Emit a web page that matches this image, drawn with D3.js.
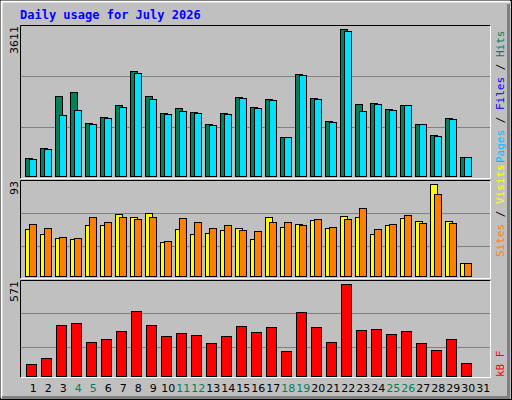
<!DOCTYPE html><html><head><meta charset="utf-8">
<script src="https://cdn.jsdelivr.net/npm/d3@7"></script>
<style>body{margin:0}svg{display:block}</style></head><body>
<script>
const days = d3.range(1,32);
const weekend = [4,5,11,12,18,19,25,26];
const hits  = [442,688,1965,2063,1302,1449,1744,2579,1965,1547,1670,1572,1277,1547,1940,1695,1891,958,2505,1916,1351,3611,1768,1793,1646,1744,1277,1007,1425,467];
const files = [418,663,1498,1621,1277,1425,1695,2530,1891,1523,1597,1547,1253,1523,1916,1670,1867,958,2481,1891,1326,3561,1597,1768,1621,1744,1277,982,1400,467];
const visits = [48,43,39,38,52,52,63,60,64,34,48,43,44,47,49,38,60,50,53,57,49,61,60,43,52,59,56,93,56,13];
const sites  = [53,49,40,39,60,55,60,58,60,36,59,55,49,52,47,46,55,55,52,58,50,58,69,48,53,62,54,83,54,13];
const kbytes = [71,108,315,327,208,227,277,402,315,246,265,252,202,246,308,271,302,152,396,302,208,571,283,290,258,277,202,158,227,77];
const maxHits=3611, maxVisits=93, maxKB=571;

const svg=d3.select("body").append("svg").attr("width",512).attr("height",400);
svg.append("rect").attr("width",512).attr("height",400).attr("fill","#c0c0c0");
svg.append("rect").attr("x",0.5).attr("y",0.5).attr("width",511).attr("height",399).attr("fill","none").attr("stroke","#000");
svg.append("path").attr("d","M1.5,398V1.5H510").attr("fill","none").attr("stroke","#fff").attr("stroke-width",2);
svg.append("path").attr("d","M2,397.5H508.5V4").attr("fill","none").attr("stroke","#808080").attr("stroke-width",3);
svg.append("text").attr("x",20).attr("y",19).text("Daily usage for July 2026")
 .attr("font-family","DejaVu Sans Mono").attr("font-weight","bold").attr("font-size",12).attr("fill","#0000ff");

const x=d3.scaleLinear().domain([1,31]).range([25.3,475.3]);
function panel(y0,y1){
 svg.append("rect").attr("x",20.5).attr("y",y0+0.5).attr("width",470).attr("height",y1-y0).attr("fill","#c0c0c0");
 svg.append("path").attr("d",`M20.5,${y1+0.5}V${y0+0.5}H490.5`).attr("stroke","#000").attr("fill","none");
 svg.append("path").attr("d",`M20.5,${y1+0.5}H490.5V${y0+0.5}`).attr("stroke","#fff").attr("fill","none");
}
function grid(y,vals){vals.forEach(v=>svg.append("line").attr("x1",21).attr("x2",490).attr("y1",Math.round(y(v))+0.5).attr("y2",Math.round(y(v))+0.5).attr("stroke","#808080"));}
function bars(data,y,off,w,color){
 svg.append("g").selectAll("rect").data(data).join("rect")
  .attr("x",(d,i)=>Math.round(x(i+1))+off+0.5).attr("y",d=>Math.round(y(d))+0.5)
  .attr("width",w).attr("height",d=>Math.round(y(0))-Math.round(y(d)))
  .attr("fill",color).attr("stroke","#000");
}
function maxLabel(txt,yTop){
 svg.append("text").attr("transform",`translate(18,${yTop}) rotate(-90)`).attr("text-anchor","end")
  .attr("font-family","DejaVu Sans").attr("font-size",11).text(txt);
}
function sideLabel(parts,yBottom){
 const t=svg.append("text").attr("transform",`translate(504,${yBottom}) rotate(-90)`)
  .attr("font-family","DejaVu Sans Mono").attr("font-size",11);
 parts.forEach(p=>t.append("tspan").attr("fill",p[1]).text(p[0]));
}
// top panel
panel(25,178);
const y1=d3.scaleLinear().domain([0,maxHits]).range([176,29]);
grid(y1,[maxHits*49/147,maxHits*100/147]);
bars(hits,y1,0,7,"#00805c");
bars(files,y1,4,7,"#00e0ff");
maxLabel("3611",26);
sideLabel([["Pages","#00c0ff"],[" / ","#000"],["Files","#0000ff"],[" / ","#000"],["Hits","#00805c"]],163);
// middle panel
panel(180,278);
const y2=d3.scaleLinear().domain([0,maxVisits]).range([276,184.3]);
grid(y2,[maxVisits*30/92,maxVisits*63/92]);
bars(visits,y2,0,7,"#ffff00");
bars(sites,y2,4,7,"#ff8000");
maxLabel("93",181);
sideLabel([["Sites","#ff8000"],[" / ","#000"],["Visits","#ffff00"]],257);
// bottom panel
panel(280,377);
const y3=d3.scaleLinear().domain([0,maxKB]).range([375.7,284.3]);
grid(y3,[maxKB*29/91,maxKB*62/91]);
bars(kbytes,y3,1,10,"#ff0000");
maxLabel("571",281);
sideLabel([["kB F","#ff0000"]],377);
// x labels
svg.append("g").selectAll("text").data(days).join("text")
 .attr("x",d=>x(d)+8).attr("y",392).attr("text-anchor","middle")
 .attr("font-family","DejaVu Sans").attr("font-size",11)
 .attr("fill",d=>weekend.includes(d)?"#00805c":"#000").text(d=>d);
</script></body></html>
